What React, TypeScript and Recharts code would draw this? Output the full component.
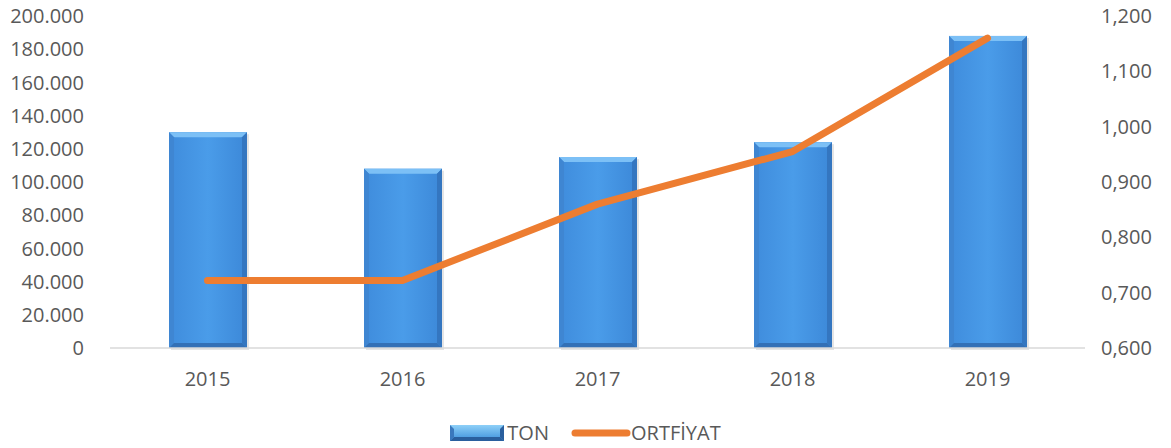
import React from 'react';
import { ComposedChart, Bar, Line, XAxis, YAxis, Legend } from 'recharts';

const years = ['2015', '2016', '2017', '2018', '2019'];
const tonValues = [130000, 108000, 115000, 124000, 188000];
const priceValues = [0.722, 0.722, 0.86, 0.955, 1.16];
const leftTicks = [0, 20000, 40000, 60000, 80000, 100000, 120000, 140000, 160000, 180000, 200000];
const rightTicks = [0.6, 0.7, 0.8, 0.9, 1.0, 1.1, 1.2];

const data = years.map((y, i) => ({ year: y, TON: tonValues[i], ORTFIYAT: priceValues[i] }));

const FONT = '"Open Sans", sans-serif';
const TEXT = '#595959';
const FS = 20;

const fmtLeft = (v: number) => (v === 0 ? '0' : v.toLocaleString('de-DE'));
const fmtRight = (v: number) => v.toFixed(3).replace('.', ',');

const BevelBar = (props: any) => {
  const { x, y, width, height } = props;
  if (!height || height <= 0) return null;
  const b = 5;
  return (
    <g>
      <rect x={x + 2} y={y + 2} width={width} height={height} fill="#000" opacity={0.1} />
      <rect x={x} y={y} width={width} height={height} fill="url(#barGrad)" />
      <polygon points={`${x},${y} ${x + width},${y} ${x + width - b},${y + b} ${x + b},${y + b}`} fill="#7CC0F6" />
      <polygon points={`${x},${y} ${x + b},${y + b} ${x + b},${y + height - b} ${x},${y + height}`} fill="#3F86D2" />
      <polygon points={`${x + width},${y} ${x + width},${y + height} ${x + width - b},${y + height - b} ${x + width - b},${y + b}`} fill="#3476C0" />
      <polygon points={`${x},${y + height} ${x + width},${y + height} ${x + width - b},${y + height - b} ${x + b},${y + height - b}`} fill="#3370B6" />
    </g>
  );
};

const LegendContent = () => (
  <div style={{ display: 'flex', justifyContent: 'center', alignItems: 'center', fontFamily: FONT, fontSize: FS, color: TEXT, marginLeft: 0, paddingTop: 19 }}>
    <svg width={54} height={16} style={{ marginRight: 3 }}>
      <defs>
        <linearGradient id="legGrad" x1="0" y1="0" x2="0" y2="1">
          <stop offset="0" stopColor="#8ED0F8" />
          <stop offset="1" stopColor="#3C8FDB" />
        </linearGradient>
      </defs>
      <rect x={0} y={0} width={54} height={16} fill="url(#legGrad)" />
      <polygon points="0,16 54,16 50,12 4,12" fill="#2A5F9E" />
      <polygon points="0,0 4,4 4,12 0,16" fill="#3A78BD" />
      <polygon points="54,0 54,16 50,12 50,4" fill="#2A5F9E" />
    </svg>
    <span style={{ marginRight: 22 }}>TON</span>
    <svg width={60} height={16}>
      <line x1={4} y1={8} x2={56} y2={8} stroke="#ED7D31" strokeWidth={7} strokeLinecap="round" />
    </svg>
    <span>ORTFİYAT</span>
  </div>
);

export default function App() {
  return (
    <div style={{ position: 'absolute', left: 0, top: 0 }}>
      <ComposedChart width={1171} height={448} data={data} margin={{ top: 16, right: 0, bottom: 0, left: 0 }}>
        <defs>
          <linearGradient id="barGrad" x1="0" y1="0" x2="1" y2="0">
            <stop offset="0" stopColor="#3F8CDC" />
            <stop offset="0.5" stopColor="#4A9CE9" />
            <stop offset="1" stopColor="#3C88D8" />
          </linearGradient>
        </defs>
        <XAxis
          dataKey="year"
          axisLine={{ stroke: '#D9D9D9', strokeWidth: 1.5 }}
          tickLine={false}
          tickMargin={18}
          height={52}
          tick={{ fill: TEXT, fontFamily: FONT, fontSize: FS }}
        />
        <YAxis
          yAxisId="left"
          orientation="left"
          domain={[0, 200000]}
          ticks={leftTicks}
          tickFormatter={fmtLeft}
          axisLine={false}
          tickLine={false}
          width={110}
          tickMargin={20}
          interval={0}
          tick={{ fill: TEXT, fontFamily: FONT, fontSize: FS }}
        />
        <YAxis
          yAxisId="right"
          orientation="right"
          domain={[0.6, 1.2]}
          ticks={rightTicks}
          tickFormatter={fmtRight}
          axisLine={false}
          tickLine={false}
          width={86}
          tickMargin={10}
          interval={0}
          tick={{ fill: TEXT, fontFamily: FONT, fontSize: FS, textAnchor: 'start' }}
        />
        <Legend verticalAlign="bottom" height={48} content={<LegendContent />} />
        <Bar yAxisId="left" dataKey="TON" barSize={78} shape={<BevelBar />} isAnimationActive={false} />
        <Line
          yAxisId="right"
          dataKey="ORTFIYAT"
          stroke="#ED7D31"
          strokeWidth={7}
          dot={false}
          activeDot={false}
          strokeLinecap="round"
          strokeLinejoin="round"
          type="linear"
          isAnimationActive={false}
        />
      </ComposedChart>
    </div>
  );
}
